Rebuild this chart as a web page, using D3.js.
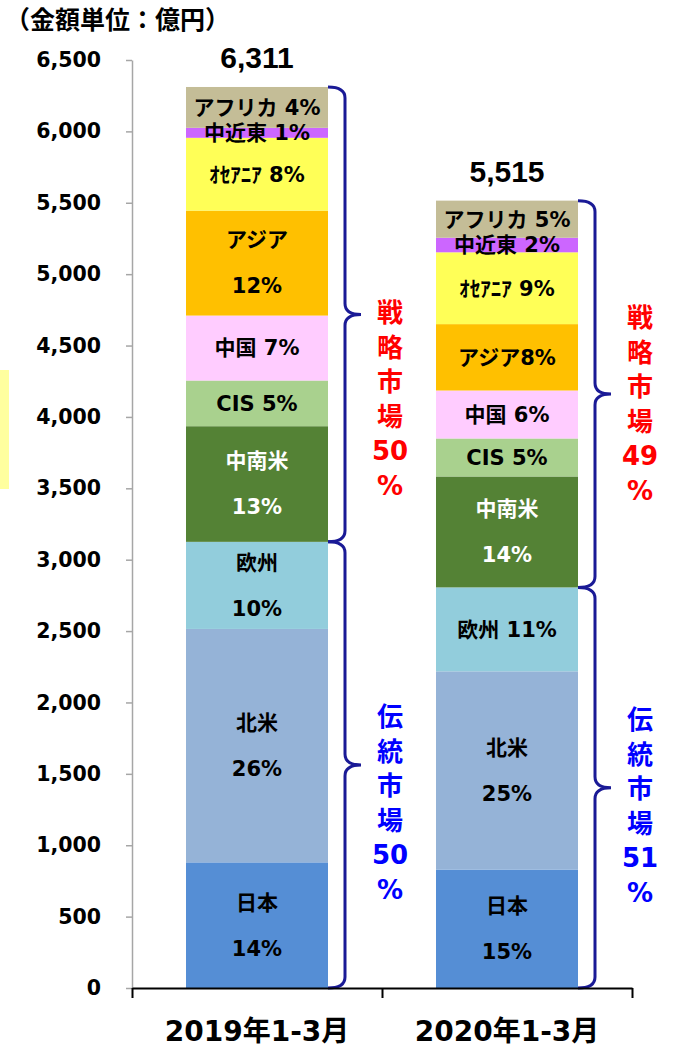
<!DOCTYPE html>
<html lang="ja">
<head>
<meta charset="UTF-8">
<title>地域別 金額</title>
<script src="https://d3js.org/d3.v7.min.js"></script>
<style>
  body { margin: 0; background: #fff; }
  svg { display: block; }
</style>
</head>
<body>
<script>
// data (億円)
var categories = ["2019年1-3月", "2020年1-3月"];
var totals = [6311, 5515];
var regions = ["日本", "北米", "欧州", "中南米", "CIS", "中国", "アジア", "ｵｾｱﾆｱ", "中近東", "アフリカ"];
var values2019 = [880, 1635, 610, 810, 320, 455, 735, 510, 70, 286];
var values2020 = [830, 1388, 588, 777, 266, 336, 465, 503, 102, 260];
var labels2019 = ["日本\n14%", "北米\n26%", "欧州\n10%", "中南米\n13%", "CIS 5%", "中国 7%", "アジア\n12%", "ｵｾｱﾆｱ 8%", "中近東 1%", "アフリカ 4%"];
var labels2020 = ["日本\n15%", "北米\n25%", "欧州 11%", "中南米\n14%", "CIS 5%", "中国 6%", "アジア8%", "ｵｾｱﾆｱ 9%", "中近東 2%", "アフリカ 5%"];
var colors = ["#558ed5", "#95b3d7", "#92cddc", "#548235", "#a9d18e", "#ffccff", "#ffc000", "#ffff57", "#cc66ff", "#c4bd97"];
var yTicks = d3.range(0, 6501, 500);

// market groups: traditional = 日本..欧州, strategic = 中南米..アフリカ
var marketNames = ["伝統市場", "戦略市場"];
var marketColors = ["#0000ff", "#ff0000"];
var marketFirst = [0, 3];
var marketLast = [2, 9];
var marketShares2019 = ["50", "50"];
var marketShares2020 = ["51", "49"];
var marketLabelAt2019 = [1898, 4728];
var marketLabelAt2020 = [1877, 4693];

var values = [values2019, values2020];
var labels = [labels2019, labels2020];
var marketShares = [marketShares2019, marketShares2020];
var marketLabelAt = [marketLabelAt2019, marketLabelAt2020];

var margin = {top: 60, left: 132},
    width = 500,
    height = 928;

var svg = d3.select("body").append("svg")
    .attr("width", 673)
    .attr("height", 1049);

// small yellow block at the left edge
svg.append("rect")
    .attr("x", 0).attr("y", 370)
    .attr("width", 9).attr("height", 119)
    .attr("fill", "#ffff9f");

svg.append("text")
    .attr("x", 5).attr("y", 29)
    .style("font-family", "'Noto Sans CJK JP', sans-serif")
    .style("font-weight", "bold")
    .style("font-size", "25px")
    .text("（金額単位：億円）");

var g = svg.append("g")
    .attr("transform", "translate(" + margin.left + "," + margin.top + ")");

var x = d3.scaleBand().domain(categories).range([0, width])
    .paddingInner(0.432).paddingOuter(0.216);
var xEdge = d3.scaleLinear().domain([0, categories.length]).range([0, width]);
var y = d3.scaleLinear().domain([0, 6500]).range([height, 0]);

// y axis
var yAxis = g.append("g")
    .call(d3.axisLeft(y).tickValues(yTicks).tickFormat(d3.format(",")).tickSize(6).tickSizeOuter(0));
yAxis.select(".domain").attr("stroke", "#a6a6a6").attr("stroke-width", 1.5);
yAxis.selectAll(".tick line").attr("stroke", "#a6a6a6").attr("stroke-width", 1.5);
yAxis.selectAll(".tick text")
    .attr("x", -31)
    .style("font-family", "'DejaVu Sans', Verdana, sans-serif")
    .style("font-weight", "bold")
    .style("font-size", "20.5px")
    .attr("fill", "#000");

// stacked bars
categories.forEach(function(cat, ci) {
  var vals = values[ci];
  var segs = [];
  var base = 0;
  vals.forEach(function(v, i) {
    segs.push({i: i, y0: base, y1: base + v, label: labels[ci][i]});
    base += v;
  });

  var bar = g.append("g");
  bar.selectAll("rect")
      .data(segs)
    .enter().append("rect")
      .attr("x", x(cat))
      .attr("width", x.bandwidth())
      .attr("y", function(d) { return y(d.y1); })
      .attr("height", function(d) { return y(d.y0) - y(d.y1); })
      .attr("fill", function(d) { return colors[d.i]; });

  bar.selectAll("text.seg")
      .data(segs)
    .enter().append("text")
      .attr("class", "seg")
      .attr("text-anchor", "middle")
      .attr("x", x(cat) + x.bandwidth() / 2)
      .attr("y", function(d) { return (y(d.y0) + y(d.y1)) / 2; })
      .attr("fill", function(d) { return d.i === 3 ? "#fff" : "#000"; })
      .style("font-family", "'DejaVu Sans', 'Noto Sans CJK JP', sans-serif")
      .style("font-weight", "bold")
      .style("font-size", "21px")
      .each(function(d) {
        var lines = d.label.split("\n");
        var t = d3.select(this);
        lines.forEach(function(line, li) {
          t.append("tspan")
            .attr("x", x(cat) + x.bandwidth() / 2)
            .attr("dy", li === 0 ? (lines.length === 1 ? "0.35em" : (0.35 * 21 - 23) + "px") : "46px")
            .text(line);
        });
      });

  // total
  g.append("text")
      .attr("text-anchor", "middle")
      .attr("x", x(cat) + x.bandwidth() / 2)
      .attr("y", y(totals[ci]) - 19)
      .style("font-family", "'Liberation Sans', Arial, sans-serif")
      .style("font-weight", "bold")
      .style("font-size", "30px")
      .text(d3.format(",")(totals[ci]));

  // braces
  var right = x(cat) + x.bandwidth();
  var x1 = right + 17, x2 = right + 33, r = 11;
  marketNames.forEach(function(name, mi) {
    var lo = d3.sum(vals.slice(0, marketFirst[mi]));
    var hi = d3.sum(vals.slice(0, marketLast[mi] + 1));
    var yt = y(hi), yb = y(lo), ym = (yt + yb) / 2;
    var p = d3.path();
    p.moveTo(right, yt);
    p.quadraticCurveTo(x1, yt, x1, yt + r);
    p.lineTo(x1, ym - r);
    p.quadraticCurveTo(x1, ym, x2, ym);
    p.quadraticCurveTo(x1, ym, x1, ym + r);
    p.lineTo(x1, yb - r);
    p.quadraticCurveTo(x1, yb, right, yb);
    g.append("path")
        .attr("d", p.toString())
        .attr("fill", "none")
        .attr("stroke", "#1a1a96")
        .attr("stroke-width", 3);

    var lines = name.split("").concat([marketShares[ci][mi], "%"]);
    var lt = g.append("text")
        .attr("text-anchor", "middle")
        .attr("fill", marketColors[mi])
        .style("font-family", "'DejaVu Sans', 'Noto Sans CJK JP', sans-serif")
        .style("font-weight", "bold")
        .style("font-size", "26px");
    lines.forEach(function(line, li) {
      lt.append("tspan")
        .attr("x", x2 + 29)
        .attr("y", y(marketLabelAt[ci][mi]) + li * 34.5)
        .attr("dy", "0.35em")
        .text(line);
    });
  });
});

// x axis
var xAxis = g.append("g")
    .attr("transform", "translate(0," + height + ")")
    .call(d3.axisBottom(xEdge).tickValues(d3.range(0, categories.length + 1)).tickFormat("").tickSize(10).tickSizeOuter(0));
xAxis.select(".domain").attr("stroke", "#000").attr("stroke-width", 2);
xAxis.selectAll(".tick line").attr("stroke", "#000").attr("stroke-width", 2);

g.selectAll("text.cat")
    .data(categories)
  .enter().append("text")
    .attr("class", "cat")
    .attr("text-anchor", "middle")
    .attr("x", function(d) { return x(d) + x.bandwidth() / 2; })
    .attr("y", height + 53)
    .style("font-family", "'DejaVu Sans', 'Noto Sans CJK JP', sans-serif")
    .style("font-weight", "bold")
    .style("font-size", "28px")
    .text(function(d) { return d; });
</script>
</body>
</html>
